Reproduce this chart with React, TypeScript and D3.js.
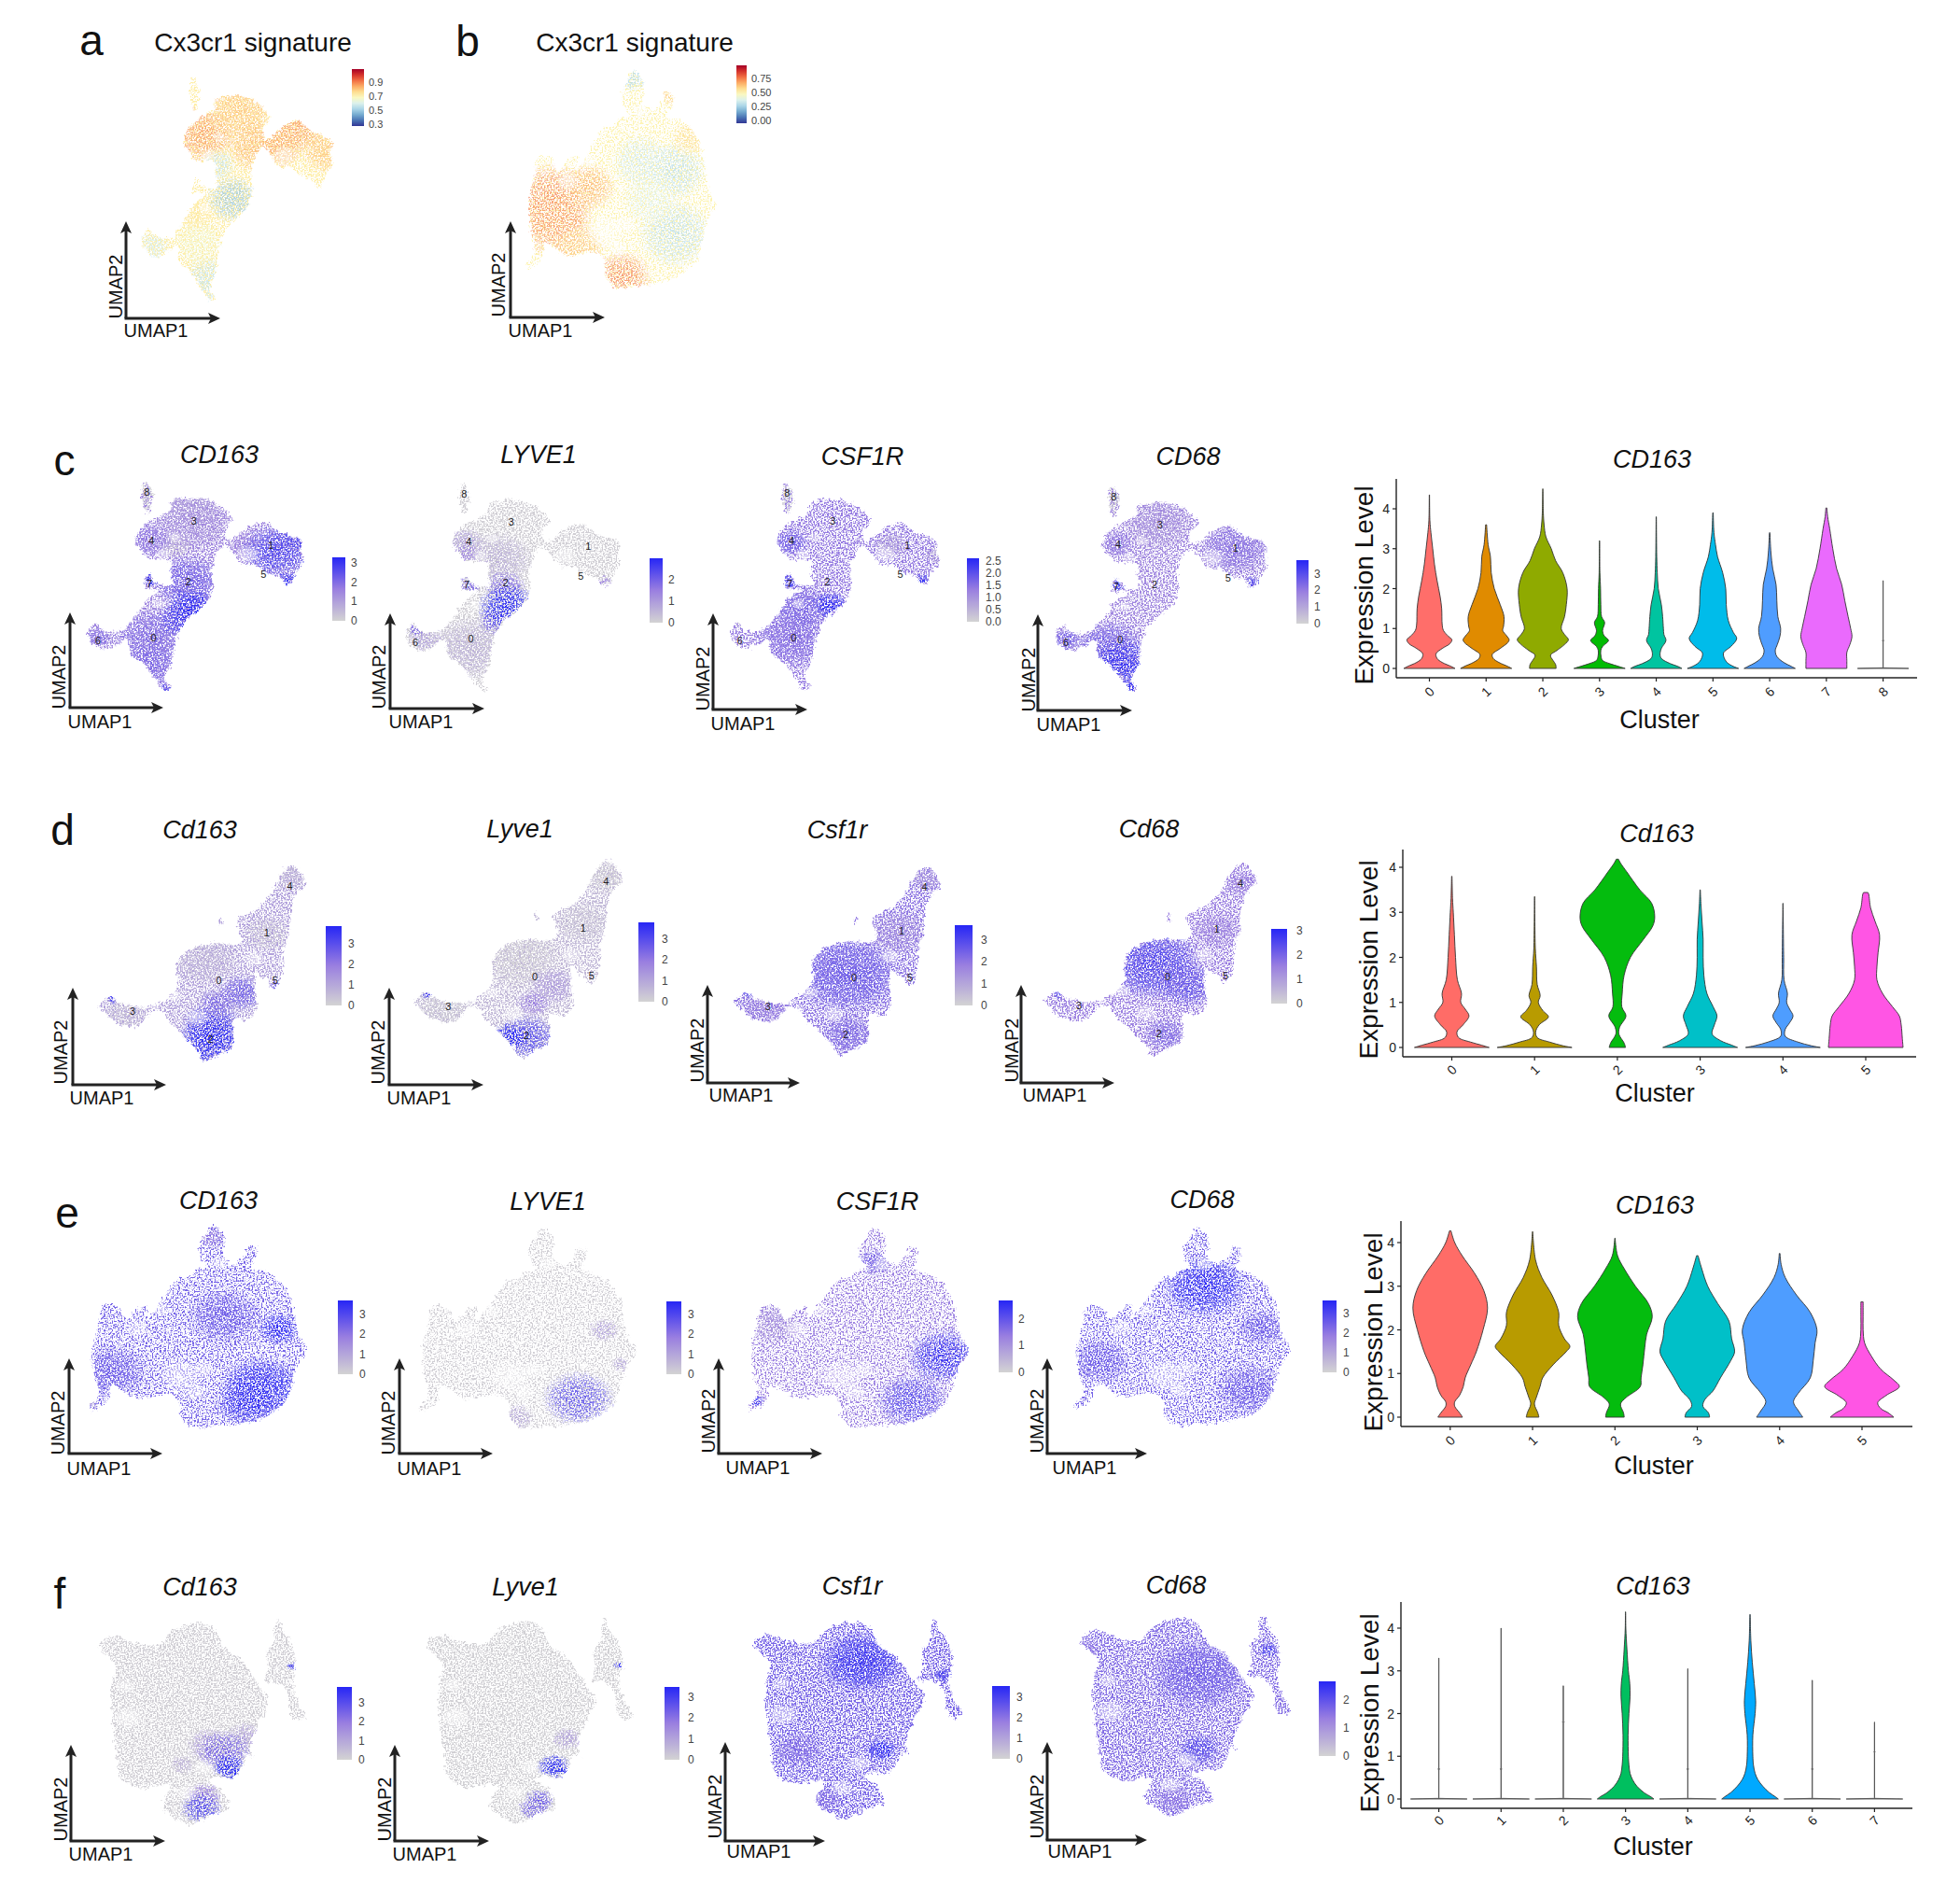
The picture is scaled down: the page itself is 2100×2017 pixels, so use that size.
import React from "react";
import * as d3 from "d3";

// NOTE: the UMAP clouds are approximations, not per-cell data. Each one is a traced
// outline plus hand-read expression regions; the dot-like grain is a fixed-seed SVG
// noise filter (texture only, it encodes no values).

type Pt = [number, number];
type Pt3 = [number, number, number];
type Spot = [number, number, number, number];

// ---- cloud outlines (pseudo-UMAP units) ----
const shapeA: Pt[][] = [
  [[258,197],[275,235],[270,280],[262,298],[250,240]],
  [[320,265],[370,250],[420,262],[455,295],[468,318],[450,350],[455,385],[475,375],[510,340],[548,328],[575,355],[610,372],[638,392],[630,420],[638,455],[620,490],[610,520],[595,525],[585,505],[550,490],[525,465],[495,465],[470,425],[450,400],[430,430],[418,480],[420,530],[405,585],[380,615],[350,650],[330,710],[320,780],[305,830],[318,860],[305,866],[280,825],[250,775],[225,755],[215,700],[190,720],[155,735],[128,710],[120,680],[140,650],[150,670],[195,678],[215,660],[240,620],[265,575],[295,545],[300,540],[260,540],[258,510],[270,495],[280,520],[325,530],[320,490],[320,450],[270,445],[245,410],[235,390],[250,345],[300,305],[320,290]],
];
const shapeB: Pt[][] = [
  [[420,132],[445,155],[450,200],[445,225],[470,250],[495,235],[510,195],[530,205],[525,235],[515,265],[560,285],[590,320],[610,370],[620,440],[630,490],[648,525],[625,575],[610,640],[590,700],[540,745],[480,765],[420,770],[375,775],[345,740],[345,700],[320,670],[240,680],[180,640],[170,690],[130,722],[130,705],[150,670],[140,600],[135,520],[150,440],[160,385],[195,390],[215,430],[240,400],[265,385],[265,430],[300,370],[345,295],[365,295],[385,270],[410,265],[395,235],[390,195],[405,165]],
];
const shapeD: Pt[][] = [
  [[610,200],[630,225],[642,265],[625,285],[610,330],[605,385],[600,430],[590,470],[590,520],[575,590],[560,590],[555,570],[540,560],[525,540],[520,600],[525,660],[505,695],[470,690],[470,740],[465,785],[430,808],[400,830],[385,795],[345,740],[315,700],[300,672],[275,670],[240,715],[190,705],[160,670],[145,655],[175,620],[195,640],[260,655],[300,635],[335,585],[335,520],[355,480],[420,450],[465,455],[490,440],[480,375],[530,335],[555,300],[575,250],[590,220]],
  [[435,368],[441,372],[442,390],[436,385]],
];
const shapeF: Pt[][] = [
  [[150,215],[185,185],[225,205],[290,215],[330,165],[395,145],[430,170],[445,220],[490,265],[530,340],[555,395],[530,470],[510,550],[520,580],[505,570],[490,610],[470,645],[435,640],[410,655],[440,680],[460,740],[420,760],[365,792],[330,770],[300,735],[320,670],[240,675],[200,640],[195,590],[185,500],[180,350],[190,280],[165,245]],
  [[580,138],[590,170],[610,210],[620,280],[612,340],[625,400],[645,450],[615,455],[600,370],[580,340],[545,335],[555,290],[550,240],[570,200],[570,160]],
];

// ---- thin, nearly empty parts of each cloud: x, y, spread ----
const sparseA: Pt3[] = [[505,430,24],[300,430,16],[330,375,14],[290,590,14]];
const sparseB: Pt3[] = [[345,610,42],[240,460,24],[380,660,22],[300,400,18],[400,590,22],[440,250,18]];
const sparseD: Pt3[] = [[385,690,22],[330,620,16],[520,500,20],[280,650,12]];
const sparseF: Pt3[] = [[220,450,30],[215,350,18],[400,610,22],[570,380,14],[360,690,22]];

// ---- cluster number labels ----
const labelsA: [string, number, number][] = [["8",262,231],["3",375,322],["4",273,385],["1",560,400],["5",542,495],["7",268,523],["2",362,517],["6",145,708],["0",278,698]];
const labelsD: [string, number, number][] = [["4",605,267],["1",550,415],["0",435,570],["5",570,568],["3",228,667],["2",415,758]];

// ---- expression hot spots: x, y, spread, level ----
const spotsCx3a: Spot[] = [[288,365,60,.88],[385,291,65,.82],[431,403,55,.84],[547,337,55,.88],[625,412,50,.82],[495,403,45,.86],[366,562,48,.48],[327,459,32,.55],[301,805,50,.55],[275,693,50,.64],[262,600,35,.74],[152,702,30,.58]];
const spotsCx3b: Spot[] = [[194,522,80,.76],[207,587,70,.72],[300,476,50,.68],[391,746,55,.76],[535,429,60,.28],[443,401,55,.32],[535,615,70,.28],[470,513,55,.36],[418,150,30,.25],[523,206,20,.62],[273,662,50,.64],[575,334,35,.58]];
const spotsCD163c: Spot[] = [[260,240,45,.02],[330,400,30,.1],[370,270,45,.15],[375,320,70,.35],[500,400,30,.45],[575,420,60,.85],[620,390,30,.8],[360,520,60,.7],[280,700,70,.62],[270,790,50,.65],[265,385,40,.55],[345,640,40,.85],[370,600,40,1],[600,510,15,1],[270,510,18,.95],[310,860,14,.8],[145,700,25,.6]];
const spotsLYVE1c: Spot[] = [[280,730,70,.2],[340,440,60,.2],[265,385,30,.3],[170,700,30,.3],[337,640,30,.65],[360,530,35,.6],[267,425,25,.45],[277,525,20,.6],[145,670,15,.6],[600,515,12,.5],[367,595,50,1]];
const spotsCSF1Rc: Spot[] = [[260,240,45,.02],[520,400,30,.25],[630,430,20,.25],[155,650,15,.05],[273,390,30,.7],[280,700,70,.6],[300,600,50,.65],[369,594,30,1],[596,515,14,1],[270,517,18,.9]];
const spotsCD68c: Spot[] = [[260,240,45,.02],[370,320,60,.35],[560,400,60,.58],[252,723,60,.7],[288,785,60,.95],[308,856,15,1],[272,520,15,.9],[604,512,14,.85],[145,700,25,.7],[270,385,30,.55]];
const spotsCd163d: Spot[] = [[400,500,60,.15],[550,420,40,.08],[610,230,35,.15],[210,680,40,.1],[420,710,50,.8],[490,610,40,.7],[430,640,30,.65],[415,770,60,1],[180,625,12,.9],[570,590,12,.7]];
const spotsLyve1d: Spot[] = [[400,510,70,.03],[550,400,45,.08],[610,250,40,.03],[220,670,50,.05],[417,765,50,.8],[432,655,30,.5],[480,600,40,.35],[372,765,30,1],[180,625,12,.9]];
const spotsCsf1rd: Spot[] = [[420,560,90,.72],[420,760,45,.62],[540,420,50,.4],[220,670,40,.45],[610,240,30,.35],[180,625,10,.8]];
const spotsCd68d: Spot[] = [[400,530,80,.85],[480,600,50,.75],[430,760,35,.62],[610,270,30,.5],[550,420,40,.45],[180,630,10,.8]];
const spotsCD163e: Spot[] = [[180,600,60,.7],[450,420,60,.7],[130,710,15,.25],[420,170,25,.48],[500,700,50,.9],[540,650,70,1],[580,460,35,1]];
const spotsLYVE1e: Spot[] = [[570,460,25,.3],[610,570,15,.3],[360,740,30,.25],[510,680,60,.75]];
const spotsCSF1Re: Spot[] = [[187,445,45,.35],[425,243,30,.7],[514,689,60,.8],[588,547,60,.95],[143,689,15,.95]];
const spotsCD68e: Spot[] = [[548,660,60,.7],[188,567,50,.7],[578,457,40,.7],[443,324,70,1],[338,264,30,.95]];
const spotsCd163f: Spot[] = [[350,600,20,.2],[420,540,40,.35],[500,510,30,.3],[450,560,45,.65],[400,700,30,.5],[395,740,35,.8],[460,610,28,1],[480,630,12,1],[610,285,8,.9]];
const spotsLyve1f: Spot[] = [[486,520,25,.3],[421,720,25,.7],[406,745,25,.65],[456,610,28,1],[478,628,10,1],[611,285,8,1]];
const spotsCsf1rf: Spot[] = [[258,566,40,.6],[318,731,30,.6],[407,278,70,.95],[600,319,15,.9],[452,566,25,1]];
const spotsCd68f: Spot[] = [[429,330,80,.7],[163,248,25,.55],[370,739,30,.55],[429,575,35,.8],[592,248,15,.9]];

// ---- violin profiles: [expression level, relative half width] ----
const violinsC: Pt[][] = [
  [[0,1],[.05,.85],[.15,.5],[.25,.3],[.37,.26],[.5,.5],[.62,.8],[.72,.88],[.8,.75],[.95,.55],[1.1,.5],[1.5,.48],[1.8,.42],[2.2,.3],[2.6,.2],[3,.13],[3.4,.06],[3.7,.02],[4.35,.005]],
  [[0,1],[.05,.85],[.15,.5],[.25,.28],[.35,.24],[.5,.55],[.65,.85],[.72,.9],[.82,.8],[.95,.65],[1.05,.68],[1.3,.7],[1.6,.55],[2,.32],[2.4,.2],[2.8,.17],[3.1,.08],[3.6,.02]],
  [[0,.52],[.1,.5],[.2,.4],[.33,.3],[.45,.55],[.6,.85],[.72,1],[.85,.85],[1,.72],[1.3,.85],[1.6,.92],[2,.95],[2.4,.78],[2.7,.5],[3,.33],[3.3,.12],[3.6,.05],[3.9,.02],[4.5,.005]],
  [[0,1],[.05,.75],[.12,.4],[.2,.12],[.3,.06],[.45,.05],[.55,.12],[.7,.35],[.82,.18],[.95,.12],[1.15,.2],[1.3,.08],[1.6,.05],[2,.04],[2.4,.015],[3.2,.005]],
  [[0,1],[.05,.85],[.12,.55],[.25,.2],[.35,.15],[.5,.2],[.7,.38],[.85,.3],[1,.28],[1.3,.25],[1.6,.2],[2,.08],[2.4,.04],[2.8,.02],[3.8,.005]],
  [[0,1],[.05,.8],[.15,.55],[.3,.42],[.4,.42],[.55,.7],[.75,.93],[.9,.8],[1.2,.6],[1.6,.52],[2,.5],[2.4,.38],[2.8,.18],[3.1,.1],[3.4,.04],[3.9,.01]],
  [[0,1],[.05,.85],[.15,.55],[.3,.28],[.45,.22],[.6,.3],[.8,.4],[1,.43],[1.3,.32],[1.7,.28],[2.1,.25],[2.5,.12],[2.9,.05],[3.4,.01]],
  [[0,.8],[.2,.8],[.4,.8],[.6,.92],[.8,1],[1,.95],[1.3,.85],[1.7,.72],[2.1,.6],[2.5,.4],[3,.25],[3.5,.13],[3.8,.05],[4.02,.02]],
  [[0,1],[.015,.02],[.03,.005],[.68,.005],[.7,.03],[.72,.005],[2.2,.005]],
];
const violinsD: Pt[][] = [
  [[0,1],[.05,.8],[.12,.5],[.22,.18],[.35,.14],[.5,.3],[.7,.46],[.85,.36],[1,.24],[1.2,.26],[1.5,.15],[2,.1],[2.5,.07],[3,.04],[3.3,.02],[3.8,.005]],
  [[0,1],[.04,.75],[.12,.4],[.22,.07],[.35,.03],[.5,.12],[.68,.37],[.82,.22],[1,.1],[1.15,.15],[1.4,.07],[1.8,.05],[2.2,.02],[3.35,.003]],
  [[0,.22],[.1,.18],[.3,.04],[.45,.06],[.7,.23],[.9,.12],[1.2,.13],[1.6,.18],[2,.35],[2.4,.7],[2.7,.95],[2.9,1],[3.2,.92],[3.5,.6],[3.9,.25],[4.1,.08],[4.18,.03]],
  [[0,1],[.05,.85],[.15,.55],[.3,.32],[.5,.38],[.7,.45],[.9,.35],[1.2,.18],[1.6,.1],[2,.08],[2.4,.08],[2.8,.05],[3.2,.02],[3.5,.005]],
  [[0,1],[.04,.75],[.12,.4],[.25,.06],[.4,.06],[.55,.18],[.7,.27],[.85,.18],[1,.1],[1.2,.12],[1.5,.03],[2,.02],[3.2,.002]],
  [[0,1],[.2,.98],[.5,.95],[.7,.9],[.9,.72],[1.2,.45],[1.5,.3],[1.8,.3],[2.1,.33],[2.5,.37],[2.8,.25],[3.1,.13],[3.4,.08],[3.44,.06]],
];
const violinsE: Pt[][] = [
  [[0,.33],[.1,.25],[.25,.12],[.35,.12],[.5,.25],[.7,.35],[.9,.4],[1.2,.55],[1.5,.7],[2,.88],[2.5,1],[2.9,.9],[3.3,.65],[3.7,.32],[4,.12],[4.27,.02]],
  [[0,.17],[.1,.14],[.3,.05],[.45,.1],[.7,.2],[.9,.27],[1.2,.55],[1.5,.9],[1.62,1],[1.8,.85],[2.1,.7],[2.4,.7],[2.8,.52],[3.2,.25],[3.6,.08],[4.25,.005]],
  [[0,.25],[.1,.23],[.3,.15],[.45,.3],[.7,.68],[.9,.7],[1.2,.75],[1.6,.8],[1.9,.85],[2.3,1],[2.6,.9],[3,.55],[3.4,.25],[3.7,.07],[4.1,.005]],
  [[0,.33],[.1,.3],[.25,.15],[.4,.2],[.6,.42],[.9,.62],[1.3,.9],[1.5,1],[1.8,.92],[2.2,.85],[2.6,.55],[3,.28],[3.4,.12],[3.7,.02]],
  [[0,.62],[.15,.5],[.35,.37],[.55,.5],[.9,.82],[1.3,.9],[1.7,.95],[2,1],[2.4,.82],[2.8,.45],[3.2,.15],[3.5,.04],[3.75,.01]],
  [[0,.85],[.1,.7],[.2,.5],[.33,.42],[.5,.65],[.7,1],[.85,.85],[1.1,.5],[1.4,.25],[1.7,.07],[2,.03],[2.3,.03],[2.64,.03]],
];
const violinsF: Pt[][] = [
  [[0,1],[.015,.02],[.03,.004],[.68,.004],[.7,.03],[.72,.004],[3.3,.004]],
  [[0,1],[.015,.03],[.03,.004],[.68,.004],[.7,.03],[.72,.004],[4,.004]],
  [[0,1],[.015,.02],[.03,.004],[1.78,.004],[1.8,.03],[1.82,.004],[2.65,.004]],
  [[0,1],[.05,.9],[.15,.65],[.3,.4],[.45,.25],[.6,.16],[.8,.12],[1,.1],[1.5,.09],[2,.12],[2.4,.16],[2.7,.15],[3,.1],[3.5,.05],[4,.01],[4.38,.005]],
  [[0,1],[.015,.02],[.03,.004],[.68,.004],[.7,.03],[.72,.004],[3.05,.004]],
  [[0,1],[.05,.9],[.15,.68],[.3,.45],[.45,.28],[.6,.18],[.8,.12],[1,.1],[1.5,.1],[2,.18],[2.3,.2],[2.7,.15],[3.2,.08],[3.7,.03],[4.32,.005]],
  [[0,1],[.015,.02],[.03,.004],[.68,.004],[.7,.03],[.72,.004],[2.78,.004]],
  [[0,1],[.015,.02],[.03,.004],[1.08,.004],[1.1,.02],[1.12,.004],[1.8,.004]],
];
const coloursC = ["#FF6E6A","#E08B00","#8FAA00","#03BB04","#00C4A0","#00BCEA","#4F9DFF","#EA6AFD","#FF61C3"];
const coloursD = ["#FF6C67","#B89B00","#04BC0E","#00C0C8","#4E9DFF","#FF55E4"];
const coloursF = ["#F8766D","#CD9600","#7CAE00","#00BF5F","#00BFC4","#00A9FF","#C77CFF","#FF61CC"];

// ---- colour scales ----
const featureColour = d3.scaleLinear<string>().domain([0,.5,1]).range(["#d3d3d3","#9a7fe0","#2626f5"]).interpolate(d3.interpolateRgb);
const rainbow = (t: number) => d3.interpolateRdYlBu(1 - t);

// ---- layout ----
type Panel = {
  title: string; italic: boolean; shape: Pt[][]; sparse: Pt3[]; box: number[]; origin: Pt; top: number; right: number;
  u1: Pt; u2: Pt; tp: Pt; legend: number[]; domain: Pt; ticks: number[]; fmt: string; base: number; spots: Spot[];
  thin: boolean; labels?: [string, number, number][]; rb?: boolean;
};
const p = (title: string, italic: boolean, shape: Pt[][], sparse: Pt3[], thin: boolean, box: number[], origin: Pt, top: number, right: number, u1: Pt, u2: Pt, tp: Pt, legend: number[], domain: Pt, ticks: number[], fmt: string, base: number, spots: Spot[], labels?: [string, number, number][], rb?: boolean): Panel =>
  ({ title, italic, shape, sparse, thin, box, origin, top, right, u1, u2, tp, legend, domain, ticks, fmt, base, spots, labels, rb });

const panels: Panel[] = [
  p("Cx3cr1 signature",false,shapeA,sparseA,false,[152,356,83,322],[135,341],237,236,[167,354],[124,307],[271,45],[377,390,74,135,395],[.273,1.087],[.3,.5,.7,.9],".1f",.72,spotsCx3a,undefined,true),
  p("Cx3cr1 signature",false,shapeB,sparseB,true,[565,767,76,308],[547,340],237,648,[579,354],[534,305],[680,45],[789,800,70,132,805],[-.05,.983],[0,.25,.5,.75],".2f",.5,spotsCx3b,undefined,true),
  p("CD163",true,shapeA,sparseA,false,[94,325,516,739],[75,758],656,175,[107,773],[63,725],[235,487],[356,370,597,665,376],[0,3.3],[0,1,2,3],"d",.45,spotsCD163c,labelsA),
  p("LYVE1",true,shapeA,sparseA,false,[434,665,518,740],[418,759],657,519,[451,773],[406,725],[577,487],[696,710,598,667,716],[0,3],[0,1,2],"d",.03,spotsLYVE1c,labelsA),
  p("CSF1R",true,shapeA,sparseA,false,[782,1006,517,738],[764,760],657,865,[796,775],[753,727],[924,489],[1036,1049,598,666,1056],[0,2.63],[0,.5,1,1.5,2,2.5],".1f",.52,spotsCSF1Rc,labelsA),
  p("CD68",true,shapeA,sparseA,false,[1131,1358,521,740],[1112,761],658,1213,[1145,776],[1102,728],[1273,489],[1389,1402,600,668,1408],[0,3.83],[0,1,2,3],"d",.45,spotsCD68c,labelsA),
  p("Cd163",true,shapeD,sparseD,false,[105,327,927,1137],[78,1162],1058,178,[109,1176],[65,1127],[214,889],[349,366,992,1077,373],[0,3.85],[0,1,2,3],"d",.3,spotsCd163d,labelsD),
  p("Lyve1",true,shapeD,sparseD,false,[443,666,922,1133],[417,1162],1058,518,[449,1176],[405,1127],[557,888],[684,701,988,1073,709],[0,3.8],[0,1,2,3],"d",.16,spotsLyve1d,labelsD),
  p("Csf1r",true,shapeD,sparseD,false,[786,1007,928,1131],[758,1160],1055,857,[794,1173],[747,1125],[897,889],[1023,1042,991,1077,1051],[0,3.69],[0,1,2,3],"d",.55,spotsCsf1rd,labelsD),
  p("Cd68",true,shapeD,sparseD,false,[1118,1346,924,1131],[1094,1160],1055,1194,[1130,1173],[1084,1125],[1231,888],[1362,1379,995,1075,1389],[0,3.08],[0,1,2,3],"d",.5,spotsCd68d,labelsD),
  p("CD163",true,shapeB,sparseB,true,[97,329,1313,1529],[74,1557],1455,174,[106,1573],[62,1524],[234,1286],[362,378,1393,1472,385],[0,3.7],[0,1,2,3],"d",.66,spotsCD163e),
  p("LYVE1",true,shapeB,sparseB,true,[450,682,1315,1530],[428,1557],1455,528,[460,1573],[416,1524],[587,1287],[714,730,1394,1472,737],[0,3.66],[0,1,2,3],"d",.03,spotsLYVE1e),
  p("CSF1R",true,shapeB,sparseB,true,[803,1038,1315,1529],[770,1557],1455,881,[812,1572],[759,1522],[940,1287],[1070,1085,1393,1470,1091],[0,2.7],[0,1,2],"d",.5,spotsCSF1Re),
  p("CD68",true,shapeB,sparseB,true,[1152,1383,1315,1527],[1122,1557],1455,1229,[1162,1572],[1111,1522],[1288,1285],[1417,1432,1393,1470,1439],[0,3.67],[0,1,2,3],"d",.66,spotsCD68e),
  p("Cd163",true,shapeF,sparseF,false,[106,328,1736,1954],[76,1972],1869,177,[108,1986],[65,1938],[214,1700],[361,377,1807,1885,384],[0,3.84],[0,1,2,3],"d",.03,spotsCd163f),
  p("Lyve1",true,shapeF,sparseF,false,[457,678,1735,1953],[423,1972],1869,524,[455,1986],[412,1938],[563,1700],[712,728,1807,1885,737],[0,3.5],[0,1,2,3],"d",.02,spotsLyve1f),
  p("Csf1r",true,shapeF,sparseF,false,[807,1031,1735,1948],[777,1972],1866,884,[813,1983],[766,1935],[913,1699],[1063,1082,1806,1884,1089],[0,3.55],[0,1,2,3],"d",.65,spotsCsf1rf),
  p("Cd68",true,shapeF,sparseF,false,[1158,1383,1731,1945],[1122,1971],1866,1229,[1157,1983],[1111,1935],[1260,1698],[1413,1431,1801,1881,1439],[0,2.67],[0,1,2],"d",.6,spotsCd68f),
];

type VP = { title: string; data: Pt[][]; colours: string[]; ax: number; right: number; top: number; bottom: number; y0: number; y4: number; c0: number; cn: number; hw: number; tp: Pt; yl: Pt; xl: Pt; tickY: number; };
const violins: VP[] = [
  { title:"CD163", data:violinsC, colours:coloursC, ax:1496, right:2054, top:513, bottom:726, y0:716, y4:545, c0:1531.5, cn:2017.6, hw:27.4, tp:[1770,492], yl:[1461,627], xl:[1778,771], tickY:741 },
  { title:"Cd163", data:violinsD, colours:coloursD, ax:1503, right:2053, top:910, bottom:1132, y0:1122, y4:929, c0:1555.5, cn:1999, hw:40, tp:[1775,893], yl:[1466,1028], xl:[1773,1171], tickY:1146 },
  { title:"CD163", data:violinsE, colours:coloursD, ax:1501, right:2049, top:1308, bottom:1528, y0:1518, y4:1331, c0:1553.8, cn:1995, hw:40, tp:[1773,1291], yl:[1471,1427], xl:[1772,1570], tickY:1543 },
  { title:"Cd163", data:violinsF, colours:coloursF, ax:1501, right:2049, top:1716, bottom:1937, y0:1927, y4:1744, c0:1541.6, cn:2008.4, hw:30.3, tp:[1771,1699], yl:[1467,1835], xl:[1771,1978], tickY:1950 },
];
const letters: [string, number, number][] = [["a",98,59],["b",501,60],["c",69,509],["d",67,905],["e",72,1315],["f",64,1723]];

const FONT = "'Liberation Sans', Arial, sans-serif";
const lineC = d3.line().curve(d3.curveCatmullRomClosed.alpha(0.5));

function Umap({ d, i }: { d: Panel; i: number }) {
  const all = d.shape.flat();
  const x = d3.scaleLinear().domain(d3.extent(all, a => a[0]) as Pt).range([d.box[0], d.box[1]]);
  const y = d3.scaleLinear().domain(d3.extent(all, a => a[1]) as Pt).range([d.box[2], d.box[3]]);
  const [lx0, lx1, lt, lb, lxt] = d.legend;
  const ly = d3.scaleLinear().domain(d.domain).range([lb, lt]);
  const norm = d3.scaleLinear().domain(d.domain).range([0, 1]);
  const col = (v: number) => (d.rb ? rainbow(norm(v)) : featureColour(v));
  const bc = d.shape.map(s => lineC(s.map(q => [x(q[0]), y(q[1])] as Pt))).join("");
  const fmt = d3.format(d.fmt);
  const stops = d3.range(0, 1.001, 0.1);
  const kx = Math.abs(x(1)-x(0)), ky = Math.abs(y(1)-y(0));
  const band = d.thin ? "Thin" : "Dense";
  return (
    <g fontFamily={FONT}>
      <defs>
        <clipPath id={`clip${i}`}><path d={bc} clipRule="evenodd" /></clipPath>
        <linearGradient id={`lg${i}`} x1="0" x2="0" y1="1" y2="0">
          {stops.map(t => <stop key={t} offset={t} stopColor={d.rb ? rainbow(t) : featureColour(t)} />)}
        </linearGradient>
        {d.spots.map((s, j) => (
          <radialGradient key={j} id={`s${i}_${j}`}>
            <stop offset="0" stopColor={col(s[3])} stopOpacity={1} />
            <stop offset="0.6" stopColor={col(s[3])} stopOpacity={0.7} />
            <stop offset="1" stopColor={col(s[3])} stopOpacity={0} />
          </radialGradient>
        ))}
        <radialGradient id={`w${i}`}>
          <stop offset="0" stopColor="#fff" stopOpacity={1} />
          <stop offset="0.6" stopColor="#fff" stopOpacity={0.8} />
          <stop offset="1" stopColor="#fff" stopOpacity={0} />
        </radialGradient>
      </defs>
      <g filter={`url(#base${band})`}>
        <g clipPath={`url(#clip${i})`}>
          <rect x={d.box[0]-5} y={d.box[2]-5} width={d.box[1]-d.box[0]+10} height={d.box[3]-d.box[2]+10} fill={col(d.base)} />
        </g>
      </g>
      <g filter={`url(#hot${band})`} opacity={d.rb ? 0.75 : 1}>
        <g clipPath={`url(#clip${i})`}>
          {d.spots.map((s, j) => (
            <ellipse key={j} cx={x(s[0])} cy={y(s[1])} rx={s[2]*kx*1.5} ry={s[2]*ky*1.5} fill={`url(#s${i}_${j})`} />
          ))}
        </g>
      </g>
      <g clipPath={`url(#clip${i})`} opacity={0.5}>
        {d.sparse.map((s, j) => <ellipse key={j} cx={x(s[0])} cy={y(s[1])} rx={s[2]*kx*1.3} ry={s[2]*ky*1.3} fill={`url(#w${i})`} />)}
      </g>
      {d.labels && d.labels.map(l => <text key={l[0]} x={x(l[1])} y={y(l[2])} fontSize={11} textAnchor="middle" dominantBaseline="central" fill="#222">{l[0]}</text>)}
      <text x={d.tp[0]} y={d.tp[1]} fontSize={d.rb ? 28 : 27} fontStyle={d.italic ? "italic" : "normal"} textAnchor="middle" dominantBaseline="central" fill="#111">{d.title}</text>
      <rect x={lx0} y={lt} width={lx1-lx0} height={lb-lt} fill={`url(#lg${i})`} />
      {d.ticks.map(t => (
        <text key={t} x={lxt} y={ly(t)} fontSize={d.rb ? 11 : 12} textAnchor="start" dominantBaseline="central" fill="#444">{fmt(t)}</text>
      ))}
      <line x1={d.origin[0]} y1={d.origin[1]} x2={d.origin[0]} y2={d.top+8} stroke="#222" strokeWidth={3} />
      <line x1={d.origin[0]-1.5} y1={d.origin[1]} x2={d.right-8} y2={d.origin[1]} stroke="#222" strokeWidth={3} />
      <path d={`M${d.origin[0]},${d.top}L${d.origin[0]-6},${d.top+13}L${d.origin[0]},${d.top+10}L${d.origin[0]+6},${d.top+13}Z`} fill="#222" />
      <path d={`M${d.right},${d.origin[1]}L${d.right-13},${d.origin[1]-6}L${d.right-10},${d.origin[1]}L${d.right-13},${d.origin[1]+6}Z`} fill="#222" />
      <text x={d.u1[0]} y={d.u1[1]} fontSize={20} textAnchor="middle" dominantBaseline="central" fill="#111">UMAP1</text>
      <text transform={`translate(${d.u2[0]},${d.u2[1]}) rotate(-90)`} fontSize={20} textAnchor="middle" dominantBaseline="central" fill="#111">UMAP2</text>
    </g>
  );
}

function Violin({ v }: { v: VP }) {
  const n = v.data.length;
  const x = d3.scaleLinear().domain([0, n-1]).range([v.c0, v.cn]);
  const y = d3.scaleLinear().domain([0, 4]).range([v.y0, v.y4]);
  const w = d3.scaleLinear().domain([0, 1]).range([0, v.hw]);
  return (
    <g fontFamily={FONT}>
      {v.data.map((prof, i) => {
        const stem = prof[1][1] < 0.05;
        const area = d3.area<Pt>().curve(stem ? d3.curveLinear : d3.curveCatmullRom.alpha(0.5)).y(q => y(q[0])).x0(q => x(i)-w(q[1])).x1(q => x(i)+w(q[1]));
        return <path key={i} d={area(prof)!} fill={stem ? "#555" : v.colours[i]} stroke={stem ? "#555" : "#333"} strokeWidth={0.9} strokeLinejoin="round" />;
      })}
      <line x1={v.ax} x2={v.ax} y1={v.top} y2={v.bottom} stroke="#222" strokeWidth={1.4} />
      <line x1={v.ax} x2={v.right} y1={v.bottom} y2={v.bottom} stroke="#222" strokeWidth={1.4} />
      {[0,1,2,3,4].map(t => (
        <g key={t}>
          <line x1={v.ax-4} x2={v.ax} y1={y(t)} y2={y(t)} stroke="#222" strokeWidth={1.2} />
          <text x={v.ax-7} y={y(t)} fontSize={14} textAnchor="end" dominantBaseline="central" fill="#222">{t}</text>
        </g>
      ))}
      {v.data.map((_, i) => (
        <g key={i}>
          <line x1={x(i)} x2={x(i)} y1={v.bottom} y2={v.bottom+4} stroke="#222" strokeWidth={1.2} />
          <text transform={`translate(${x(i)},${v.tickY}) rotate(-45)`} fontSize={14} textAnchor="middle" dominantBaseline="central" fill="#222">{i}</text>
        </g>
      ))}
      <text x={v.tp[0]} y={v.tp[1]} fontSize={27} fontStyle="italic" textAnchor="middle" dominantBaseline="central" fill="#111">{v.title}</text>
      <text x={v.xl[0]} y={v.xl[1]} fontSize={27} textAnchor="middle" dominantBaseline="central" fill="#111">Cluster</text>
      <text transform={`translate(${v.yl[0]},${v.yl[1]}) rotate(-90)`} fontSize={28} textAnchor="middle" dominantBaseline="central" fill="#111">Expression Level</text>
    </g>
  );
}

function Speckle({ id, seed, cut }: { id: string; seed: number; cut: number }) {
  return (
    <filter id={id} x="-5%" y="-5%" width="110%" height="110%" colorInterpolationFilters="sRGB">
      <feTurbulence type="fractalNoise" baseFrequency="0.22" numOctaves={2} seed={seed + 1} result="warp" />
      <feDisplacementMap in="SourceGraphic" in2="warp" scale={9} xChannelSelector="R" yChannelSelector="G" result="moved" />
      <feTurbulence type="fractalNoise" baseFrequency="0.6" numOctaves={1} seed={seed} result="n" />
      <feColorMatrix in="n" type="matrix" values={`0 0 0 0 0  0 0 0 0 0  0 0 0 0 0  8 0 0 0 ${-8 * cut}`} result="m" />
      <feComposite in="moved" in2="m" operator="in" />
    </filter>
  );
}

export default function App() {
  return (
    <svg width={2100} height={2017} viewBox="0 0 2100 2017" style={{ position: "absolute", left: 0, top: 0, display: "block", background: "#fff" }}>
      <defs>
        <Speckle id="baseDense" seed={4} cut={0.45} />
        <Speckle id="hotDense" seed={9} cut={0.44} />
        <Speckle id="baseThin" seed={4} cut={0.49} />
        <Speckle id="hotThin" seed={9} cut={0.46} />
      </defs>
      {panels.map((d, i) => <Umap key={i} d={d} i={i} />)}
      {violins.map((v, i) => <Violin key={i} v={v} />)}
      {letters.map(l => <text key={l[0]} x={l[1]} y={l[2]} fontFamily={FONT} fontSize={46} fill="#111" textAnchor="middle">{l[0]}</text>)}
    </svg>
  );
}
